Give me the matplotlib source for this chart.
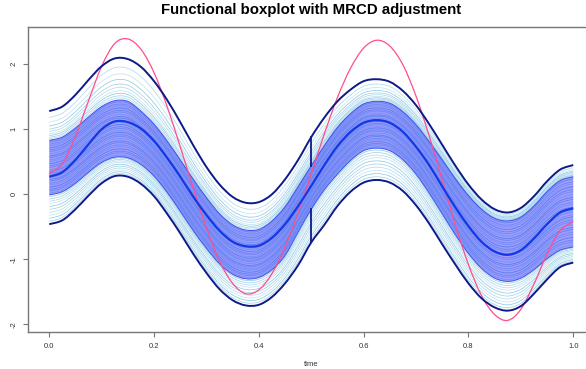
import numpy as np
import matplotlib
matplotlib.use("Agg")
import matplotlib.pyplot as plt
from matplotlib.path import Path
from matplotlib.patches import PathPatch

plt.rcParams['font.family'] = ['Liberation Sans', 'DejaVu Sans']

# time grid (0 .. 1, step 0.025)
time = np.linspace(0, 1, 41)

# curves
upper_fence = [1.28, 1.35, 1.53, 1.76, 1.97, 2.09, 2.08, 1.96, 1.74, 1.45, 1.11, 0.75, 0.42, 0.15, -0.04, -0.13,
               -0.12, 0.00, 0.23, 0.53, 0.88, 1.18, 1.43, 1.61, 1.74, 1.77, 1.73, 1.59, 1.37, 1.08, 0.76, 0.44,
               0.15, -0.08, -0.23, -0.28, -0.21, -0.03, 0.20, 0.38, 0.45]
central_upper = [0.83, 0.88, 1.02, 1.19, 1.35, 1.44, 1.43, 1.28, 1.08, 0.82, 0.53, 0.23, -0.05, -0.30, -0.47, -0.55,
                 -0.54, -0.41, -0.19, 0.12, 0.44, 0.75, 1.03, 1.24, 1.39, 1.43, 1.40, 1.27, 1.07, 0.81, 0.53, 0.24,
                 -0.02, -0.23, -0.37, -0.41, -0.35, -0.18, 0.04, 0.21, 0.27]
median_curve = [0.27, 0.34, 0.53, 0.77, 1.00, 1.12, 1.11, 1.01, 0.82, 0.56, 0.27, -0.04, -0.32, -0.56, -0.73, -0.80,
                -0.79, -0.67, -0.46, -0.18, 0.13, 0.45, 0.74, 0.96, 1.10, 1.14, 1.10, 0.96, 0.73, 0.45, 0.12, -0.20,
                -0.49, -0.73, -0.88, -0.93, -0.86, -0.68, -0.46, -0.28, -0.215]
central_lower = [-0.01, 0.04, 0.17, 0.34, 0.49, 0.57, 0.56, 0.46, 0.28, 0.03, -0.26, -0.56, -0.83, -1.07, -1.23, -1.30,
                 -1.28, -1.16, -0.94, -0.58, -0.23, 0.07, 0.31, 0.52, 0.67, 0.71, 0.67, 0.53, 0.31, 0.02, -0.30, -0.62,
                 -0.91, -1.14, -1.29, -1.34, -1.29, -1.16, -0.99, -0.86, -0.81]
lower_fence = [-0.46, -0.40, -0.23, -0.02, 0.17, 0.28, 0.27, 0.16, -0.03, -0.30, -0.60, -0.92, -1.21, -1.46, -1.63, -1.71,
               -1.70, -1.58, -1.37, -1.09, -0.74, -0.47, -0.18, 0.04, 0.18, 0.22, 0.18, 0.05, -0.17, -0.45, -0.77, -1.08,
               -1.37, -1.60, -1.74, -1.79, -1.72, -1.53, -1.31, -1.12, -1.05]
outlier_curve = [0.32, 0.47, 0.89, 1.44, 1.97, 2.32, 2.39, 2.23, 1.87, 1.35, 0.73, 0.09, -0.52, -1.03, -1.37, -1.53,
                 -1.47, -1.22, -0.81, -0.28, 0.32, 0.93, 1.49, 1.94, 2.25, 2.37, 2.28, 1.99, 1.51, 0.90, 0.22, -0.47,
                 -1.08, -1.56, -1.85, -1.94, -1.77, -1.38, -0.92, -0.56, -0.42]

# relative positions of the individual sample curves inside each band
upper_band_pos = [0.05, 0.10, 0.16, 0.22, 0.30, 0.38, 0.49, 0.62, 0.78]
central_pos = [0.03, 0.07, 0.10, 0.14, 0.18, 0.21, 0.25, 0.28, 0.32, 0.36, 0.39, 0.43, 0.46, 0.50, 0.53,
               0.57, 0.61, 0.64, 0.68, 0.71, 0.75, 0.79, 0.82, 0.86, 0.90, 0.93, 0.97]
lower_band_pos = [0.10, 0.20, 0.30, 0.40, 0.50, 0.60, 0.70, 0.78, 0.86, 0.94]

title = "Functional boxplot with MRCD adjustment"
x_label = "time"
xticks = [0.0, 0.2, 0.4, 0.6, 0.8, 1.0]
yticks = [-2, -1, 0, 1, 2]

uf = np.array(upper_fence); cu = np.array(central_upper); md = np.array(median_curve)
cl = np.array(central_lower); lf = np.array(lower_fence); oc = np.array(outlier_curve)


def smooth_segments(x, y):
    """Catmull-Rom curve through the points, expressed as cubic Bezier path pieces."""
    x = np.asarray(x, float); y = np.asarray(y, float)
    n = len(x)
    verts = []
    for i in range(n - 1):
        p0 = (x[max(i - 1, 0)], y[max(i - 1, 0)])
        p1 = (x[i], y[i]); p2 = (x[i + 1], y[i + 1])
        p3 = (x[min(i + 2, n - 1)], y[min(i + 2, n - 1)])
        c1 = (p1[0] + (p2[0] - p0[0]) / 6, p1[1] + (p2[1] - p0[1]) / 6)
        c2 = (p2[0] - (p3[0] - p1[0]) / 6, p2[1] - (p3[1] - p1[1]) / 6)
        verts += [c1, c2, p2]
    return verts


def smooth_line(ax, x, y, **kw):
    verts = [(x[0], y[0])] + smooth_segments(x, y)
    codes = [Path.MOVETO] + [Path.CURVE4] * (len(verts) - 1)
    ax.add_patch(PathPatch(Path(verts, codes), fill=False, capstyle='butt', **kw))


def smooth_band(ax, x, ylo, yhi, **kw):
    up = [(x[0], yhi[0])] + smooth_segments(x, yhi)
    xr = x[::-1]; lr = ylo[::-1]
    lo = [(xr[0], lr[0])] + smooth_segments(xr, lr)
    verts = up + lo + [(x[0], yhi[0])]
    codes = ([Path.MOVETO] + [Path.CURVE4] * (len(up) - 1) + [Path.LINETO] +
             [Path.CURVE4] * (len(lo) - 1) + [Path.CLOSEPOLY])
    ax.add_patch(PathPatch(Path(verts, codes), **kw))


W, H = 586, 369
fig = plt.figure(figsize=(W / 100, H / 100), dpi=100)
ax = fig.add_axes([28.3 / W, (H - 331.7) / H, 565.9 / W, 304.4 / H])
ax.set_xlim(-0.04, 1.04)
ax.set_ylim(-2.114, 2.569)

light_cols = ['#b4dbed', '#a6d2ea', '#8fcbe5', '#c4e3f2']
i = 0
for p in upper_band_pos:
    smooth_line(ax, time, cu + p * (uf - cu), edgecolor=light_cols[i % 4], lw=0.55, zorder=2); i += 1
for p in lower_band_pos:
    smooth_line(ax, time, lf + p * (cl - lf), edgecolor=light_cols[i % 4], lw=0.55, zorder=2); i += 1
for p in central_pos:
    smooth_line(ax, time, cl + p * (cu - cl), edgecolor=light_cols[i % 4], lw=0.7, zorder=2); i += 1

smooth_band(ax, time, cl, cu, facecolor='#1a1aff', alpha=0.42, lw=0, zorder=3)
smooth_line(ax, time, cu, edgecolor='#3a50e8', lw=0.7, zorder=4)
smooth_line(ax, time, cl, edgecolor='#3a50e8', lw=0.7, zorder=4)

smooth_line(ax, time, oc, edgecolor='#ff4d8d', lw=0.9, zorder=5)
smooth_line(ax, time, md, edgecolor='#1438e6', lw=1.6, zorder=6)
smooth_line(ax, time, uf, edgecolor='#0c1a8a', lw=1.4, zorder=6)
smooth_line(ax, time, lf, edgecolor='#0c1a8a', lw=1.4, zorder=6)
mid = 20
ax.plot([time[mid], time[mid]], [cu[mid], uf[mid]], color='#0c1a8a', lw=1.3, zorder=6)
ax.plot([time[mid], time[mid]], [lf[mid], cl[mid]], color='#0c1a8a', lw=1.3, zorder=6)

for s in ax.spines.values():
    s.set_color('#777777')
    s.set_linewidth(1.0)
ax.set_xticks(xticks)
ax.set_xticklabels([f"{v:.1f}" for v in xticks])
ax.set_yticks(yticks)
ax.set_yticklabels([str(v) for v in yticks], rotation=90, va='center')
ax.tick_params(axis='both', length=3.6, width=0.8, color='#777777', labelsize=5.5,
               labelcolor='#333333', pad=4.2)

fig.text(311 / W, 1 - 364 / H, x_label, ha='center', va='center', fontsize=5.5, color='#333333')
fig.text(311 / W, 1 - 10 / H, title, ha='center', va='center', fontsize=10.8, fontweight='bold')

fig.savefig("out.png", dpi=100)
